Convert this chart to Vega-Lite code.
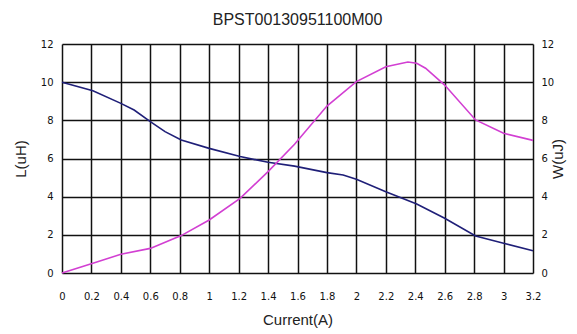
{
  "$schema": "https://vega.github.io/schema/vega-lite/v6.json",
  "autosize": "none",
  "width": 471,
  "height": 229,
  "padding": {"left": 62, "top": 44, "right": 44, "bottom": 61},
  "background": "white",
  "title": {"text": "BPST00130951100M00", "fontSize": 16, "font": "Liberation Sans", "fontWeight": "normal", "color": "#222222", "offset": 11},
  "config": {"view": {"stroke": null}},
  "data": {"values": [
    {"series": "L", "current": 0.0, "value": 10.0},
    {"series": "L", "current": 0.21, "value": 9.55},
    {"series": "L", "current": 0.4, "value": 8.89},
    {"series": "L", "current": 0.49, "value": 8.54},
    {"series": "L", "current": 0.6, "value": 7.93},
    {"series": "L", "current": 0.7, "value": 7.41},
    {"series": "L", "current": 0.81, "value": 6.97},
    {"series": "L", "current": 1.0, "value": 6.53},
    {"series": "L", "current": 1.21, "value": 6.1},
    {"series": "L", "current": 1.4, "value": 5.8},
    {"series": "L", "current": 1.58, "value": 5.6},
    {"series": "L", "current": 1.8, "value": 5.26},
    {"series": "L", "current": 1.91, "value": 5.14},
    {"series": "L", "current": 2.0, "value": 4.91},
    {"series": "L", "current": 2.2, "value": 4.26},
    {"series": "L", "current": 2.41, "value": 3.62},
    {"series": "L", "current": 2.6, "value": 2.87},
    {"series": "L", "current": 2.81, "value": 1.94},
    {"series": "L", "current": 3.0, "value": 1.56},
    {"series": "L", "current": 3.2, "value": 1.17},
    {"series": "W", "current": 0.0, "value": 0.0},
    {"series": "W", "current": 0.21, "value": 0.51},
    {"series": "W", "current": 0.4, "value": 0.98},
    {"series": "W", "current": 0.6, "value": 1.29},
    {"series": "W", "current": 0.81, "value": 1.96},
    {"series": "W", "current": 1.0, "value": 2.78},
    {"series": "W", "current": 1.21, "value": 3.91},
    {"series": "W", "current": 1.4, "value": 5.31},
    {"series": "W", "current": 1.58, "value": 6.75},
    {"series": "W", "current": 1.8, "value": 8.75},
    {"series": "W", "current": 2.0, "value": 10.03},
    {"series": "W", "current": 2.2, "value": 10.81},
    {"series": "W", "current": 2.35, "value": 11.06},
    {"series": "W", "current": 2.41, "value": 10.99},
    {"series": "W", "current": 2.47, "value": 10.73},
    {"series": "W", "current": 2.6, "value": 9.85},
    {"series": "W", "current": 2.81, "value": 8.02},
    {"series": "W", "current": 3.0, "value": 7.32},
    {"series": "W", "current": 3.2, "value": 6.95}
  ]},
  "encoding": {
    "x": {
      "field": "current", "type": "quantitative",
      "scale": {"domain": [0, 3.2], "nice": false, "zero": false},
      "axis": {
        "title": "Current(A)", "values": [0,0.2,0.4,0.6,0.8,1,1.2,1.4,1.6,1.8,2,2.2,2.4,2.6,2.8,3,3.2],
        "format": "~g", "grid": true, "gridColor": "#111111", "gridWidth": 1.5, "gridOpacity": 1,
        "domain": false, "ticks": false, "labelPadding": 18, "labelFont": "DejaVu Sans", "labelFontSize": 10, "labelColor": "#111111",
        "labelFlush": false,
        "titleFont": "Liberation Sans", "titleFontSize": 15, "titleFontWeight": "normal", "titleColor": "#222222", "titlePadding": 11
      }
    }
  },
  "layer": [
    {
      "transform": [{"filter": "datum.series === 'L'"}],
      "mark": {"type": "line", "color": "#1f1f78", "strokeWidth": 1.6},
      "encoding": {
        "y": {
          "field": "value", "type": "quantitative",
          "scale": {"domain": [0, 12], "nice": false},
          "axis": {
            "title": "L(uH)", "orient": "left", "values": [0,2,4,6,8,10,12],
            "grid": true, "gridColor": "#111111", "gridWidth": 1.5, "gridOpacity": 1,
            "domain": false, "ticks": false, "labelPadding": 9, "labelFont": "DejaVu Sans", "labelFontSize": 10, "labelColor": "#111111",
            "labelFlush": false,
            "titleFont": "Liberation Sans", "titleFontSize": 15, "titleFontWeight": "normal", "titleColor": "#222222", "titlePadding": 12
          }
        }
      }
    },
    {
      "transform": [{"filter": "datum.series === 'W'"}],
      "mark": {"type": "line", "color": "#d23fd2", "strokeWidth": 1.6},
      "encoding": {
        "y": {
          "field": "value", "type": "quantitative",
          "scale": {"domain": [0, 12], "nice": false},
          "axis": {
            "title": "W(uJ)", "orient": "right", "values": [0,2,4,6,8,10,12],
            "grid": false, "domain": false, "ticks": false, "labelPadding": 8, "labelFont": "DejaVu Sans", "labelFontSize": 10, "labelColor": "#111111",
            "labelFlush": false,
            "titleAngle": 270, "titleBaseline": "top",
            "titleFont": "Liberation Sans", "titleFontSize": 15, "titleFontWeight": "normal", "titleColor": "#222222", "titlePadding": -3
          }
        }
      }
    }
  ],
  "resolve": {"scale": {"y": "independent"}}
}
